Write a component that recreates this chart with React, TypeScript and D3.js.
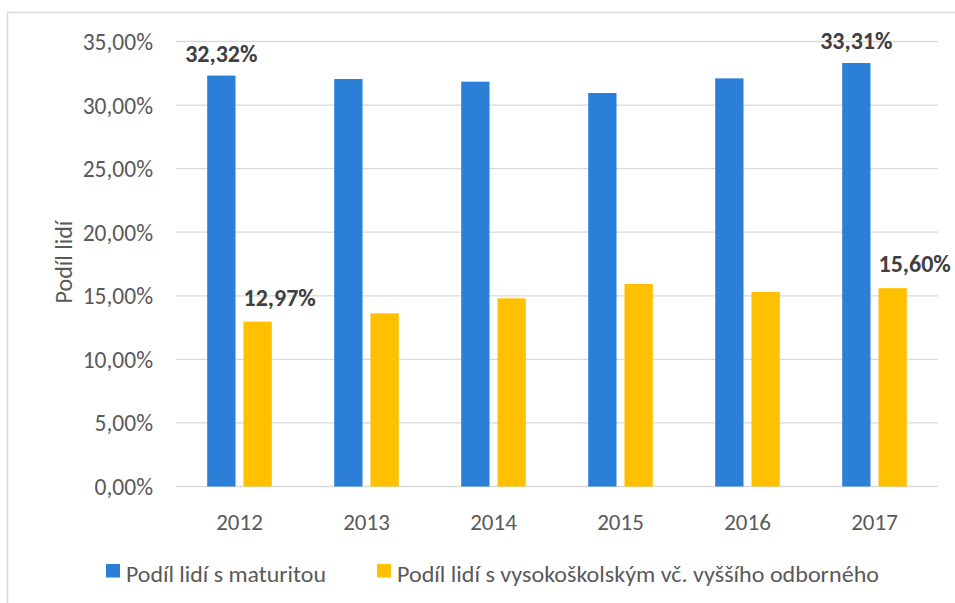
import React from "react";
import * as d3 from "d3";

const years = ["2012", "2013", "2014", "2015", "2016", "2017"];
const seriesNames = ["Podíl lidí s maturitou", "Podíl lidí s vysokoškolským vč. vyššího odborného"];
const maturita = [32.32, 32.05, 31.84, 30.95, 32.1, 33.31];
const vysokoskolske = [12.97, 13.62, 14.8, 15.93, 15.3, 15.6];
const labelledYears = ["2012", "2017"];
const yTicks = [0, 5, 10, 15, 20, 25, 30, 35];
const colors = ["#2b7fd7", "#ffc000"];

const W = 955;
const H = 603;
const FONT = "Carlito, Calibri, Lato, 'Open Sans', sans-serif";

const fmt = (v: number) => v.toFixed(2).replace(".", ",") + "%";

export default function App() {
  const x = d3.scaleBand<string>().domain(years).range([176, 938]).paddingInner(0).paddingOuter(0);
  const y = d3.scaleLinear().domain([0, 35]).range([486.5, 41.5]);
  const groupW = 64.6;
  const inner = d3.scaleBand<number>().domain([0, 1]).range([-groupW / 2, groupW / 2]).paddingInner(0.22).paddingOuter(0);
  const data = [maturita, vysokoskolske];
  const legendX = [106, 377];
  const legendLen = [200, 482];

  return (
    <svg width={W} height={H} style={{ position: "absolute", left: 0, top: 0, background: "#fff" }} fontFamily={FONT}>
      <rect x={7.5} y={12.5} width={960} height={600} fill="#fff" stroke="#d9d9d9" strokeWidth={1.5} />
      {yTicks.map((t) => (
        <g key={t}>
          <line x1={176} x2={938} y1={y(t)} y2={y(t)} stroke="#d9d9d9" strokeWidth={1.3} />
          <text x={153} y={y(t)} dy="0.36em" textAnchor="end" fontSize={23.5} fill="#595959">
            {fmt(t)}
          </text>
        </g>
      ))}
      <text transform="translate(72,262) rotate(-90)" textAnchor="middle" fontSize={24} fill="#595959">
        Podíl lidí
      </text>
      {data.map((vals, si) =>
        years.map((yr, i) => {
          const cx = (x(yr) as number) + x.bandwidth() / 2;
          const bx = cx + (inner(si) as number);
          return (
            <rect key={si + "-" + yr} x={bx} y={y(vals[i])} width={inner.bandwidth()} height={y(0) - y(vals[i])} fill={colors[si]} />
          );
        })
      )}
      {data.map((vals, si) =>
        years.map((yr, i) => {
          if (!labelledYears.includes(yr)) return null;
          const cx = (x(yr) as number) + x.bandwidth() / 2;
          const bc = cx + (inner(si) as number) + inner.bandwidth() / 2 + (si === 1 ? 22 : 0);
          return (
            <text key={"l" + si + yr} x={bc} y={y(vals[i]) - (si === 1 ? 16 : 13.5)} textAnchor="middle" fontSize={24} fontWeight="bold" fill="#404040">
              {fmt(vals[i])}
            </text>
          );
        })
      )}
      {years.map((yr) => (
        <text key={"x" + yr} x={(x(yr) as number) + x.bandwidth() / 2} y={530} textAnchor="middle" fontSize={23} fill="#595959">
          {yr}
        </text>
      ))}
      {legendX.map((lx, si) => (
        <g key={"lg" + si}>
          <rect x={lx} y={564} width={14} height={13.5} fill={colors[si]} />
          <text x={lx + 20} y={582} fontSize={22} fill="#595959" textLength={legendLen[si]} lengthAdjust="spacingAndGlyphs">
            {seriesNames[si]}
          </text>
        </g>
      ))}
    </svg>
  );
}
